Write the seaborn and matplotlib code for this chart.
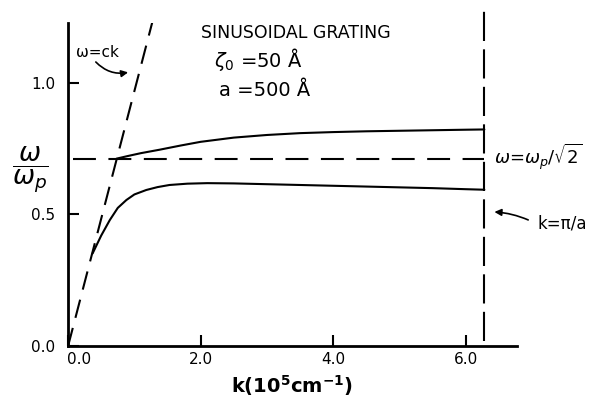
import matplotlib
matplotlib.use("Agg")
import matplotlib.pyplot as plt
import matplotlib.transforms as mtransforms
import seaborn as sns

# upper branch (above the surface plasmon line)
k_upper = [0.73, 0.9, 1.1, 1.38, 1.7, 2.0, 2.5, 3.0, 3.5, 4.0, 4.5, 5.0, 5.5, 6.0, 6.28]
w_upper = [0.712, 0.722, 0.733, 0.746, 0.762, 0.776, 0.792, 0.802, 0.809, 0.813, 0.816, 0.818, 0.820, 0.822, 0.823]

# lower branch
k_lower = [0.37, 0.5, 0.63, 0.75, 0.88, 1.0, 1.18, 1.35, 1.53, 1.8, 2.1, 2.5, 3.0, 3.5, 4.0, 4.5, 5.0, 5.5, 6.0, 6.28]
w_lower = [0.352, 0.42, 0.479, 0.525, 0.555, 0.576, 0.593, 0.604, 0.612, 0.617, 0.619, 0.618, 0.615, 0.612, 0.609, 0.606, 0.603, 0.600, 0.596, 0.594]

# light line w = ck
k_light = [0.0, 1.27]
w_light = [0.0, 1.23]

# w = wp / sqrt(2)
k_sp = [0.08, 6.28]
w_sp = [0.71, 0.71]

# zone boundary k = pi/a
k_zone = [6.28, 6.28]
w_zone = [0.02, 1.28]

x_ticks = [0.0, 2.0, 4.0, 6.0]
y_ticks = [0.0, 0.5, 1.0]

sns.set_style("ticks")
plt.rcParams['font.family'] = ['DejaVu Sans']
plt.rcParams['text.color'] = 'black'
plt.rcParams['axes.labelcolor'] = 'black'
plt.rcParams['xtick.color'] = 'black'
plt.rcParams['ytick.color'] = 'black'

fig = plt.figure(figsize=(5.92, 4.01), dpi=100)
ax = fig.add_axes([0.115, 0.137, 0.758, 0.806])

lw = 1.5
sns.lineplot(x=k_upper, y=w_upper, ax=ax, color='black', lw=lw, sort=False, estimator=None)
sns.lineplot(x=k_lower, y=w_lower, ax=ax, color='black', lw=lw, sort=False, estimator=None)
ax.plot(k_light, w_light, color='black', lw=lw, linestyle=(0, (9, 5)))
ax.plot(k_sp, w_sp, color='black', lw=lw, linestyle=(0, (11, 6)))
ax.plot(k_zone, w_zone, color='black', lw=lw, linestyle=(0, (14, 4)), clip_on=False)

ax.set_xlim(0, 6.77)
ax.set_ylim(0, 1.228)
ax.set_xticks(x_ticks)
ax.set_yticks(y_ticks)
ax.set_xticklabels([f'{v:.1f}' for v in x_ticks], fontsize=11)
ax.set_yticklabels([f'{v:.1f}' for v in y_ticks], fontsize=11)
ax.tick_params(direction='in', length=8, width=1.5, color='black')
ax.tick_params(axis='y', pad=9)
ax.tick_params(axis='x', pad=4)
# nudge the first x label to the right like in the scan
shift = mtransforms.ScaledTranslation(11 / 100, 0, fig.dpi_scale_trans)
first = ax.get_xticklabels()[0]
first.set_transform(first.get_transform() + shift)

for side in ['top', 'right']:
    ax.spines[side].set_visible(False)
for side in ['left', 'bottom']:
    ax.spines[side].set_linewidth(2)
    ax.spines[side].set_color('black')

ax.set_xlabel(r'k(10$^{\mathbf{5}}$cm$^{\mathbf{-1}}$)', fontsize=14, fontweight='bold', labelpad=5)
ax.set_ylabel(r'$\boldsymbol{\dfrac{\omega}{\omega_p}}$', fontsize=19, rotation=0, va='center')
ax.yaxis.set_label_coords(-0.085, 0.545)

ax.text(2.0, 1.19, 'SINUSOIDAL GRATING', fontsize=12.5, va='center', ha='left')
ax.text(2.2, 1.087, r'$\zeta_0$ =50 Å', fontsize=14, va='center', ha='left')
ax.text(2.27, 0.97, 'a =500 Å', fontsize=14, va='center', ha='left')
ax.text(0.12, 1.114, 'ω=ck', fontsize=11, va='center', ha='left')
ax.text(6.42, 0.719, r'$\omega$=$\omega_p$/$\sqrt{2}$', fontsize=13, va='center', ha='left')
ax.text(7.08, 0.464, 'k=π/a', fontsize=12, va='center', ha='left')

ax.annotate('', xy=(0.947, 1.042), xytext=(0.39, 1.087),
            arrowprops=dict(arrowstyle='-|>', color='black', lw=1.2,
                            connectionstyle='arc3,rad=0.3', mutation_scale=10))
ax.annotate('', xy=(6.39, 0.51), xytext=(6.98, 0.475), annotation_clip=False,
            arrowprops=dict(arrowstyle='-|>', color='black', lw=1.2,
                            connectionstyle='arc3,rad=0.1', mutation_scale=10))

fig.savefig('out.png', dpi=100)
